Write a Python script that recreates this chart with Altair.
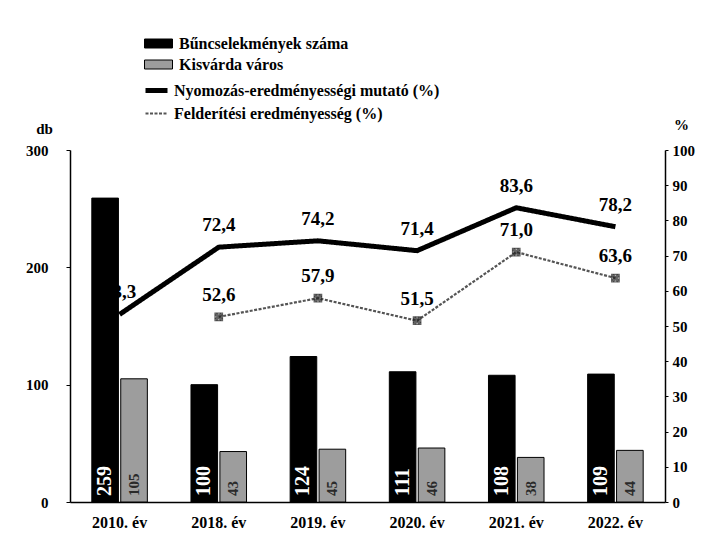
import altair as alt
import pandas as pd

years = ["2010. év", "2018. év", "2019. év", "2020. év", "2021. év", "2022. év"]
crimes = [259, 100, 124, 111, 108, 109]
kisvarda = [105, 43, 45, 46, 38, 44]
nyomozas = [53.3, 72.4, 74.2, 71.4, 83.6, 78.2]
felderites = [None, 52.6, 57.9, 51.5, 71.0, 63.6]

bar_series = ["Bűncselekmények száma", "Kisvárda város"]
line_series = ["Nyomozás-eredményességi mutató (%)", "Felderítési eredményesség (%)"]

FONT = "Liberation Serif"

bar_rows = []
for y, c, k in zip(years, crimes, kisvarda):
    bar_rows.append({"year": y, "series": bar_series[0], "value": c, "label": str(c)})
    bar_rows.append({"year": y, "series": bar_series[1], "value": k, "label": str(k)})
bars_df = pd.DataFrame(bar_rows)

line_rows = []
for y, n, f in zip(years, nyomozas, felderites):
    line_rows.append({"year": y, "series": line_series[0], "value": n,
                      "label": f"{n:.1f}".replace(".", ",")})
    if f is not None:
        line_rows.append({"year": y, "series": line_series[1], "value": f,
                          "label": f"{f:.1f}".replace(".", ",")})
lines_df = pd.DataFrame(line_rows)

x_enc = alt.X("year:N", sort=years,
              scale=alt.Scale(paddingInner=0.44, paddingOuter=0.22),
              axis=alt.Axis(title=None, labelAngle=0, ticks=False, labelPadding=12,
                            labelFontSize=16, domainWidth=1.5))
xoff = alt.XOffset("series:N", sort=bar_series, scale=alt.Scale(paddingInner=0.08))

left_axis = alt.Axis(values=[0, 100, 200, 300], title="db", titleAngle=0,
                     titleX=-26, titleY=-14, titleAlign="center",
                     titleFontSize=15, titleFont=FONT, titleFontWeight="bold",
                     grid=False, tickSize=4, labelPadding=18, domainWidth=1.5)

bars = alt.Chart(bars_df).mark_bar(stroke="black", strokeWidth=1).encode(
    x=x_enc,
    xOffset=xoff,
    y=alt.Y("value:Q", scale=alt.Scale(domain=[0, 300]), axis=left_axis),
    fill=alt.Fill("series:N", sort=bar_series,
                  scale=alt.Scale(domain=bar_series, range=["#000000", "#9d9d9d"]),
                  legend=alt.Legend(title=None, orient="none", legendX=78, legendY=-117,
                                    symbolType="M-1.4,-0.45H1.4V0.45H-1.4Z",
                                    symbolSize=400, symbolStrokeColor="black",
                                    symbolStrokeWidth=1, labelOffset=10,
                                    rowPadding=2)),
)

bar_text_black = alt.Chart(bars_df).transform_filter(
    alt.datum.series == bar_series[0]
).mark_text(angle=270, align="left", baseline="middle", dx=6,
            font=FONT, fontWeight="bold", fontSize=20, color="white").encode(
    x=x_enc, xOffset=xoff, y=alt.datum(0), text="label:N"
)
bar_text_grey = alt.Chart(bars_df).transform_filter(
    alt.datum.series == bar_series[1]
).mark_text(angle=270, align="left", baseline="middle", dx=6,
            font=FONT, fontWeight="bold", fontSize=15, color="#2a2a2a").encode(
    x=x_enc, xOffset=xoff, y=alt.datum(0), text="label:N"
)

bar_layer = alt.layer(bars, bar_text_black, bar_text_grey)

right_axis = alt.Axis(values=list(range(0, 101, 10)), orient="right", title="%",
                      titleAngle=0, titleX=16, titleY=-18, titleAlign="center",
                      titleFontSize=15, titleFont=FONT, titleFontWeight="bold",
                      grid=False, tickSize=3, labelPadding=4, domainWidth=1.5)
y_right = alt.Y("value:Q", scale=alt.Scale(domain=[0, 100]), axis=right_axis)

line_legend = alt.Legend(title=None, orient="none", legendX=73, legendY=-73,
                         symbolType="stroke", symbolSize=484,
                         labelOffset=4, rowPadding=0)

lines = alt.Chart(lines_df).mark_line().encode(
    x=alt.X("year:N", sort=years),
    y=y_right,
    stroke=alt.Stroke("series:N", sort=line_series,
                      scale=alt.Scale(domain=line_series, range=["#000000", "#555555"]),
                      legend=line_legend),
    strokeWidth=alt.StrokeWidth("series:N", sort=line_series,
                                scale=alt.Scale(domain=line_series, range=[5, 2.2]),
                                legend=line_legend),
    strokeDash=alt.StrokeDash("series:N", sort=line_series,
                              scale=alt.Scale(domain=line_series, range=[[1, 0], [3, 1.5]]),
                              legend=line_legend),
)

feld_only = alt.Chart(lines_df).transform_filter(alt.datum.series == line_series[1])
markers_box = feld_only.mark_point(shape="square", filled=False, size=55,
                                   color="#222222", strokeWidth=1.3).encode(
    x=alt.X("year:N", sort=years), y=y_right)
markers_x = feld_only.mark_point(shape="cross", angle=45, filled=True, size=70,
                                 color="#222222").encode(
    x=alt.X("year:N", sort=years), y=y_right)

line_labels = alt.Chart(lines_df).mark_text(
    dy=-22, font=FONT, fontWeight="bold", fontSize=19, color="black"
).encode(x=alt.X("year:N", sort=years), y=y_right, text="label:N")

line_layer = alt.layer(lines, markers_box, markers_x, line_labels)

chart = alt.layer(bar_layer, line_layer).resolve_scale(
    y="independent"
).properties(
    width=595, height=352,
    autosize=alt.AutoSizeParams(type="none"),
    padding={"left": 62, "top": 142, "right": 35, "bottom": 40},
).configure_view(stroke=None).configure_axis(
    labelFont=FONT, labelFontWeight="bold", labelFontSize=15, labelColor="black",
    domainColor="black", tickColor="black", titleColor="black"
).configure_legend(
    labelFont=FONT, labelFontWeight="bold", labelFontSize=16, labelColor="black",
    labelLimit=400
)

chart.save("out.html", embed_options={"renderer": "svg", "actions": False})
